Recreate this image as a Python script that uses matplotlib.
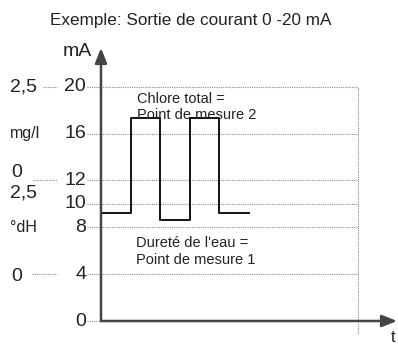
import numpy as np
import matplotlib
matplotlib.use("Agg")
import matplotlib.pyplot as plt

plt.rcParams['font.family'] = ['Liberation Sans', 'DejaVu Sans']

# ---------------------------------------------------
# DONNÉES
# ---------------------------------------------------
titre = "Exemple: Sortie de courant 0 -20 mA"

# signal en escalier (temps arbitraire, courant en mA)
t_signal = [0, 1, 2, 3, 4, 5]
i_signal = [9.2, 17.3, 8.6, 17.3, 9.2, 9.2]

# graduations de l'axe mA
ticks_ma = [20, 16, 12, 10, 8, 4, 0]
labels_ma = ["20", "16", "12", "10", "8", "4", "0"]

# échelles secondaires (texte, niveau en mA)
echelle_chlore = [("2,5", 20), ("mg/l", 16), ("0", 12.7)]
echelle_durete = [("2,5", 10.9), ("°dH", 8.0), ("0", 3.8)]
niveaux_tirets = [20, 12.0, 4]

t_fin = 8.68
y_max = 23.3
x_max = 10.0

# ---------------------------------------------------
# FIGURE
# ---------------------------------------------------
fig = plt.figure(figsize=(3.98, 3.46), dpi=100)
ax = fig.add_axes([101 / 398, 25 / 346, 296 / 398, 273 / 346])
ax.set_xlim(0, x_max)
ax.set_ylim(0, y_max)
ax.axis('off')

grille = dict(color='#8a8a8a', linestyle=(0, (1, 1)), linewidth=0.8, clip_on=False)

# lignes horizontales pointillées
for v in ticks_ma:
    ax.plot([-0.47, t_fin], [v, v], **grille)
# ligne verticale à droite
ax.plot([t_fin, t_fin], [-1.0, 20], **grille)

# petits tirets des échelles secondaires
ax.plot([-1.96, -1.49], [niveaux_tirets[0]] * 2, **grille)
ax.plot([-2.30, -1.49], [niveaux_tirets[1]] * 2, **grille)
ax.plot([-2.33, -1.49], [niveaux_tirets[2]] * 2, **grille)

# axes avec flèches
fl = dict(arrowstyle='-|>,head_length=0.9,head_width=0.36', color='#444444',
          linewidth=1.8, mutation_scale=10, shrinkA=0, shrinkB=0)
ax.annotate('', xy=(0, y_max), xytext=(0, 0), arrowprops=fl, annotation_clip=False)
ax.annotate('', xy=(x_max, 0), xytext=(0, 0), arrowprops=fl, annotation_clip=False)

# signal
ax.step(t_signal, i_signal, where='post', color='#111111', linewidth=1.4)

# étiquettes mA
for v, lab in zip(ticks_ma, labels_ma):
    ax.text(-0.5, v, lab, ha='right', va='center', fontsize=14, color='#222222', clip_on=False)

# échelles secondaires
for lab, v in echelle_chlore + echelle_durete:
    if lab in ("mg/l", "°dH"):
        ax.text(-3.07, v, lab, ha='left', va='center', fontsize=11.5, color='#222222', clip_on=False)
    elif lab == "0":
        ax.text(-2.85, v, lab, ha='center', va='center', fontsize=14, color='#222222', clip_on=False)
    else:
        ax.text(-3.07, v, lab, ha='left', va='center', fontsize=14, color='#222222', clip_on=False)

# annotations
ax.text(1.22, 18.97, "Chlore total =", ha='left', va='center', fontsize=10.5, color='#222222')
ax.text(1.22, 17.6, "Point de mesure 2", ha='left', va='center', fontsize=10.5, color='#222222')
ax.text(1.18, 6.67, "Dureté de l'eau =", ha='left', va='center', fontsize=10.5, color='#222222')
ax.text(1.18, 5.2, "Point de mesure 1", ha='left', va='center', fontsize=10.5, color='#222222')

# titres
fig.text(190.5 / 398, 1 - 20 / 346, titre, ha='center', va='center', fontsize=12.3, color='#222222')
fig.text(77 / 398, 1 - 52 / 346, "mA", ha='center', va='center', fontsize=14, color='#222222')
fig.text(393 / 398, 1 - 338 / 346, "t", ha='center', va='center', fontsize=12, color='#222222')

plt.savefig("out.png", dpi=100, facecolor='white')
plt.close()
